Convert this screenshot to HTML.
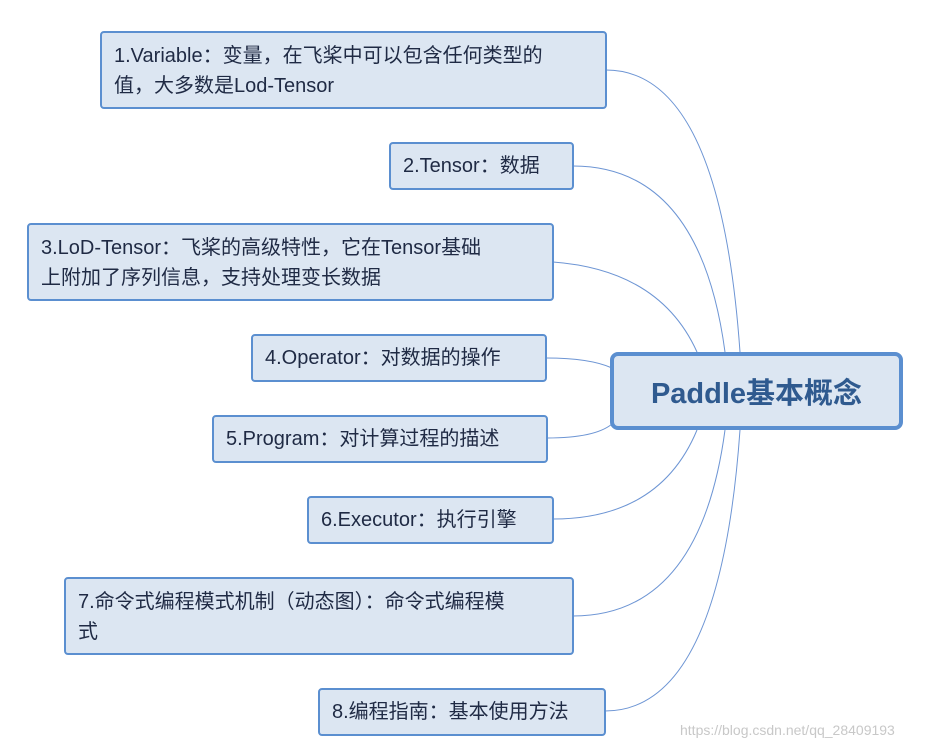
<!DOCTYPE html>
<html><head><meta charset="utf-8"><style>
body{margin:0;width:931px;height:750px;background:#fff;position:relative;overflow:hidden;font-family:"Liberation Sans","Noto Sans CJK SC",sans-serif;}
.b{position:absolute;box-sizing:border-box;background:#dce6f2;border:2px solid #5b8fd0;border-radius:4px;color:#1f2a44;font-size:20px;line-height:30px;padding:8px 12px;white-space:nowrap;}
.c{position:absolute;left:610px;top:352px;width:293px;height:78px;box-sizing:border-box;background:#dce6f2;border:4px solid #5b8fd0;border-radius:8px;color:#2f5a8f;font-size:29px;font-weight:bold;display:flex;align-items:center;justify-content:center;}
svg{position:absolute;left:0;top:0}
.w{position:absolute;left:680px;top:722px;font-size:14px;color:#c8c8c8;}
</style></head><body>
<svg width="931" height="750"><g fill="none" stroke="#6d95d4" stroke-width="1">
<path d="M606,70 Q720,70 740,352"/>
<path d="M573,166 Q700,166 725,352"/>
<path d="M553,262 Q660,270 697,352"/>
<path d="M546,358 Q590,358 612,368"/>
<path d="M547,438 Q595,438 612,424"/>
<path d="M553,519 Q660,519 697,430"/>
<path d="M573,616 Q700,616 725,430"/>
<path d="M605,711 Q720,711 740,430"/>
</g></svg>
<div class="b" style="left:100px;top:31px;width:507px;height:78px;padding-top:8px;">1.Variable：变量，在飞桨中可以包含任何类型的<br>值，大多数是Lod-Tensor</div>
<div class="b" style="left:389px;top:142px;width:185px;height:48px;padding-top:7px;">2.Tensor：数据</div>
<div class="b" style="left:27px;top:223px;width:527px;height:78px;">3.LoD-Tensor：飞桨的高级特性，它在Tensor基础<br>上附加了序列信息，支持处理变长数据</div>
<div class="b" style="left:251px;top:334px;width:296px;height:48px;padding-top:7px;">4.Operator：对数据的操作</div>
<div class="b" style="left:212px;top:415px;width:336px;height:48px;padding-top:7px;">5.Program：对计算过程的描述</div>
<div class="b" style="left:307px;top:496px;width:247px;height:48px;padding-top:7px;">6.Executor：执行引擎</div>
<div class="b" style="left:64px;top:577px;width:510px;height:78px;">7.命令式编程模式机制（动态图）：命令式编程模<br>式</div>
<div class="b" style="left:318px;top:688px;width:288px;height:48px;padding-top:7px;">8.编程指南：基本使用方法</div>
<div class="c">Paddle基本概念</div>
<div class="w">https://blog.csdn.net/qq_28409193</div>
</body></html>
